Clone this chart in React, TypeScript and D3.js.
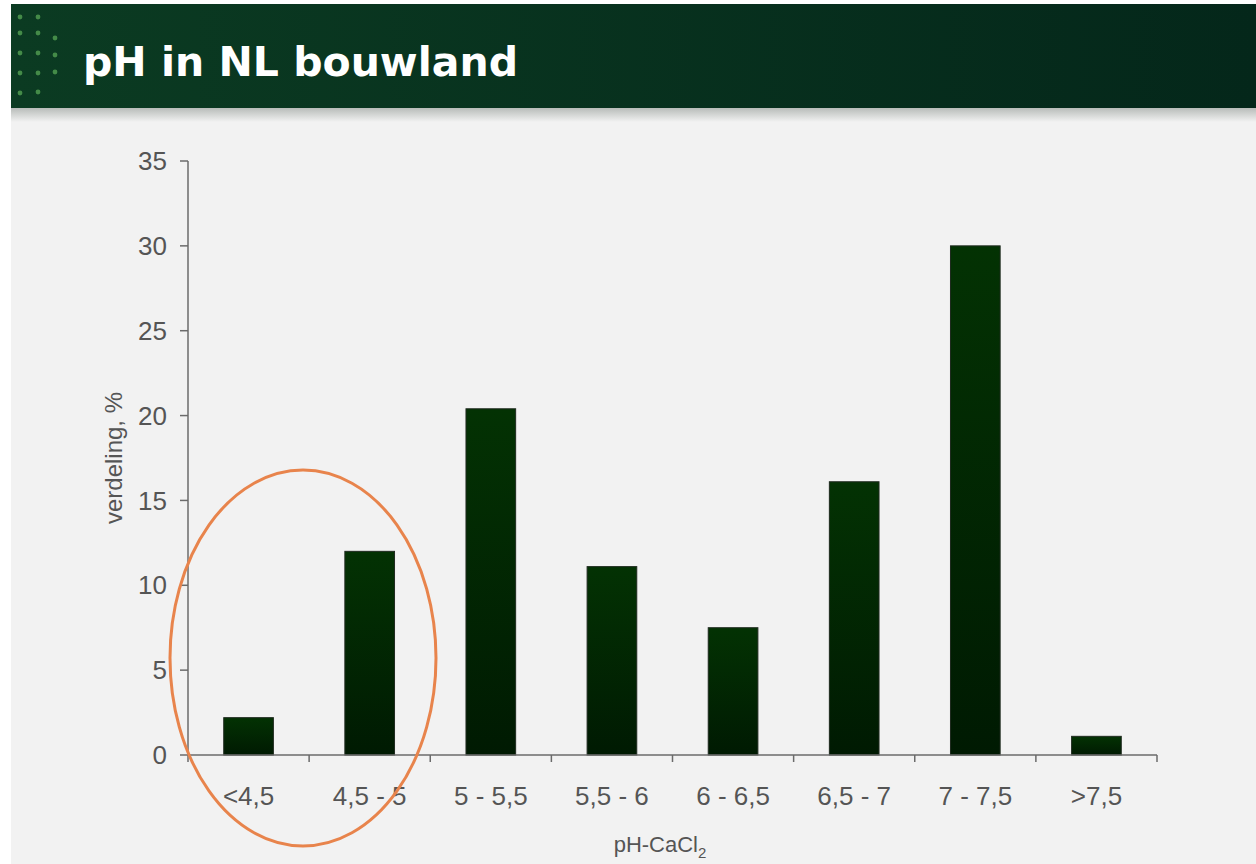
import React from "react";
import * as d3 from "d3";

const categories = ["<4,5", "4,5 - 5", "5 - 5,5", "5,5 - 6", "6 - 6,5", "6,5 - 7", "7 - 7,5", ">7,5"];
const values = [2.2, 12.0, 20.4, 11.1, 7.5, 16.1, 30.0, 1.1];
const yTicks = [0, 5, 10, 15, 20, 25, 30, 35];
const title = "pH in NL bouwland";
const yLabel = "verdeling, %";

const W = 1256;
const H = 864;
const plot = { left: 188, right: 1157, top: 161, bottom: 755 };

export default function App() {
  const x = d3.scaleBand<string>().domain(categories).range([plot.left, plot.right]).paddingInner(0.59).paddingOuter(0.295);
  const y = d3.scaleLinear().domain([0, 35]).range([plot.bottom, plot.top]);
  const boundaries = d3.range(categories.length + 1).map((i) => plot.left + i * ((plot.right - plot.left) / categories.length));

  const dots: [number, number][] = [];
  [17, 33, 53, 73, 93].forEach((yy) => dots.push([20, yy]));
  [17, 33, 53, 73, 92].forEach((yy) => dots.push([38, yy]));
  [38, 55, 72].forEach((yy) => dots.push([55, yy]));

  return (
    <svg width={W} height={H} style={{ position: "absolute", left: 0, top: 0, display: "block" }} fontFamily="'Liberation Sans', Arial, sans-serif">
      <defs>
        <linearGradient id="hdr" x1="0" x2="1" y1="0" y2="0">
          <stop offset="0" stopColor="#0b3b22" />
          <stop offset="1" stopColor="#04271a" />
        </linearGradient>
        <linearGradient id="shadow" x1="0" x2="0" y1="0" y2="1">
          <stop offset="0" stopColor="#b8bcb9" />
          <stop offset="1" stopColor="#f2f2f2" />
        </linearGradient>
        <linearGradient id="bar" x1="0" x2="0" y1="0" y2="1">
          <stop offset="0" stopColor="#033203" />
          <stop offset="1" stopColor="#001a02" />
        </linearGradient>
      </defs>
      <rect x={0} y={0} width={W} height={H} fill="#ffffff" />
      <rect x={11} y={0} width={W - 11} height={H} fill="#f2f2f2" />
      <rect x={11} y={0} width={W - 11} height={4} fill="#ffffff" />
      <rect x={11} y={108} width={W - 11} height={14} fill="url(#shadow)" />
      <rect x={11} y={4} width={W - 11} height={104} fill="url(#hdr)" />
      {dots.map(([dx, dy], i) => (
        <circle key={i} cx={dx} cy={dy} r={2.4} fill="#4f9a4f" opacity={0.85} />
      ))}
      <text x={83} y={76} fill="#ffffff" fontFamily="'DejaVu Sans', Verdana, sans-serif" fontWeight="bold" fontSize={41}>
        {title}
      </text>

      {categories.map((c, i) => (
        <rect key={c} x={x(c)} y={y(values[i])} width={x.bandwidth()} height={y(0) - y(values[i])} fill="url(#bar)" stroke="#1f2a1f" strokeWidth={1} />
      ))}

      <line x1={plot.left} x2={plot.left} y1={plot.top} y2={plot.bottom} stroke="#6b6b6b" strokeWidth={1.5} />
      <line x1={plot.left} x2={plot.right} y1={plot.bottom} y2={plot.bottom} stroke="#6b6b6b" strokeWidth={1.5} />
      {yTicks.map((t) => (
        <g key={t}>
          <line x1={plot.left - 8} x2={plot.left} y1={y(t)} y2={y(t)} stroke="#6b6b6b" strokeWidth={1.5} />
          <text x={167} y={y(t)} dy="0.35em" textAnchor="end" fontSize={26} fill="#555">
            {t}
          </text>
        </g>
      ))}
      {boundaries.map((b, i) => (
        <line key={i} x1={b} x2={b} y1={plot.bottom} y2={plot.bottom + 7} stroke="#6b6b6b" strokeWidth={1.5} />
      ))}
      {categories.map((c) => (
        <text key={c} x={(x(c) ?? 0) + x.bandwidth() / 2} y={805} textAnchor="middle" fontSize={26} fill="#555">
          {c}
        </text>
      ))}
      <text transform={`translate(122,458) rotate(-90)`} textAnchor="middle" fontSize={24} fill="#555">
        {yLabel}
      </text>
      <text x={660} y={852} textAnchor="middle" fontSize={22} fill="#555">
        pH-CaCl<tspan fontSize={15} dy={6}>2</tspan>
      </text>

      <ellipse cx={303} cy={658} rx={133} ry={188} fill="none" stroke="#e8844c" strokeWidth={3} />
    </svg>
  );
}
